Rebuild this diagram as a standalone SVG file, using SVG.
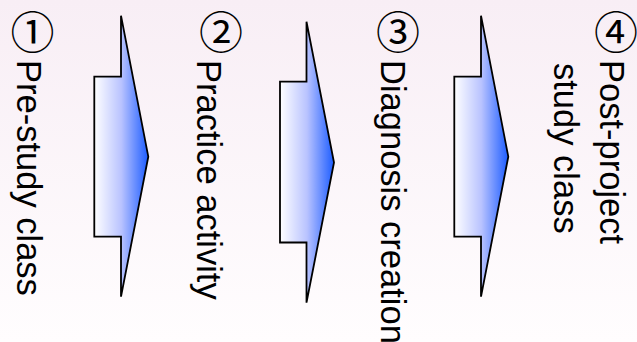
<svg xmlns="http://www.w3.org/2000/svg" width="637" height="342" viewBox="0 0 637 342">
  <defs>
    <linearGradient id="bg" x1="0" y1="0" x2="0" y2="1">
      <stop offset="0" stop-color="#f8eef5"/>
      <stop offset="1" stop-color="#fffdfe"/>
    </linearGradient>
    <linearGradient id="arrowFill" x1="0" y1="0" x2="1" y2="0">
      <stop offset="0" stop-color="#ffffff"/>
      <stop offset="0.5" stop-color="#b9c3ff"/>
      <stop offset="1" stop-color="#1c5cff"/>
    </linearGradient>
    <style>
      .arrow { fill: url(#arrowFill); stroke: #000; stroke-width: 1.8; stroke-linejoin: miter; }
      .lbl { font-family: "Liberation Sans", Arial, "Noto Sans CJK JP", sans-serif; font-size: 34.5px; fill: #000; }
      .num { font-family: "Noto Sans CJK JP", "DejaVu Sans", sans-serif; font-size: 44px; fill: #000; text-anchor: middle; }
    </style>
  </defs>
  <rect x="0" y="0" width="637" height="342" fill="url(#bg)"/>

  <g id="step1">
    <text class="num" x="32.5" y="49">①</text>
    <text class="lbl" transform="translate(16.5,60) rotate(90)">Pre-study class</text>
  </g>
  <g id="step2">
    <text class="num" x="221" y="49">②</text>
    <text class="lbl" transform="translate(197,60) rotate(90)">Practice activity</text>
  </g>
  <g id="step3">
    <text class="num" x="398" y="49">③</text>
    <text class="lbl" transform="translate(380.5,60) rotate(90)">Diagnosis creation</text>
  </g>
  <g id="step4">
    <text class="num" x="616" y="49">④</text>
    <text class="lbl" transform="translate(600,60) rotate(90)">Post-project</text>
    <text class="lbl" transform="translate(554,63) rotate(90)">study class</text>
  </g>

  <g id="connectors">
    <polygon class="arrow" points="121,15.7 148.3,156.7 121,296.7 121,236.7 94.3,236.7 94.3,76.7 121,76.7"/>
    <polygon class="arrow" points="306.5,21.7 334,162.5 306.5,302.7 306.5,242.5 280,242.5 280,81.7 306.5,81.7"/>
    <polygon class="arrow" points="481,15.7 508.3,156.7 481,296.7 481,236.7 454.3,236.7 454.3,76.7 481,76.7"/>
  </g>
</svg>
